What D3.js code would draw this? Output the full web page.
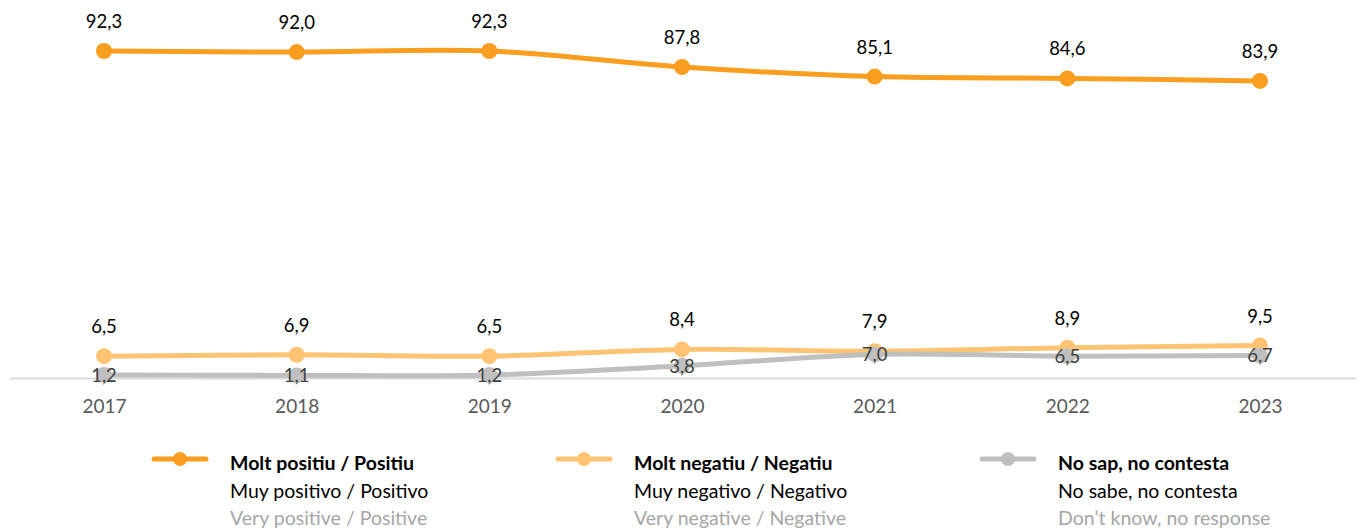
<!DOCTYPE html>
<html>
<head>
<meta charset="utf-8">
<script src="https://cdn.jsdelivr.net/npm/d3@7"></script>
<style>
  body { margin: 0; background: #fff; }
  svg { font-family: Lato, "Open Sans", sans-serif; }
</style>
</head>
<body>
<div id="chart"></div>
<script>
const years = ["2017", "2018", "2019", "2020", "2021", "2022", "2023"];
const positiu = [92.3, 92.0, 92.3, 87.8, 85.1, 84.6, 83.9];
const negatiu = [6.5, 6.9, 6.5, 8.4, 7.9, 8.9, 9.5];
const nsnc = [1.2, 1.1, 1.2, 3.8, 7.0, 6.5, 6.7];

const seriesNames = [
    ["Molt positiu / Positiu", "Muy positivo / Positivo", "Very positive / Positive"],
    ["Molt negatiu / Negatiu", "Muy negativo / Negativo", "Very negative / Negative"],
    ["No sap, no contesta", "No sabe, no contesta", "Don’t know, no response"]
];
const colors = ["#FA9E1F", "#FFC473", "#BFBFBF"];

const width = 1360;
const height = 529;

const svg = d3.select("#chart")
    .append("svg")
    .attr("width", width)
    .attr("height", height);

const x = d3.scalePoint()
    .domain(years)
    .range([104, 1260]);

const y = d3.scaleLinear()
    .domain([0, 92.3])
    .range([379.3, 51]);

// axis line + year labels
svg.append("line")
    .attr("x1", 10).attr("x2", 1356)
    .attr("y1", 378.5).attr("y2", 378.5)
    .attr("stroke", "#D9D9D9")
    .attr("stroke-width", 2);
const xAxis = svg.append("g")
    .attr("transform", "translate(0,378.5)")
    .call(d3.axisBottom(x).tickSize(0).tickPadding(21));
xAxis.select(".domain").remove();
xAxis.selectAll("text")
    .attr("font-size", 19)
    .attr("font-family", "Lato, 'Open Sans', sans-serif")
    .attr("fill", "#595959");

const line = d3.line()
    .x((d, i) => x(years[i]))
    .y(d => y(d))
    .curve(d3.curveCatmullRom.alpha(0.5));

const allSeries = [positiu, negatiu, nsnc];

allSeries.forEach((values, s) => {
    svg.append("path")
        .attr("d", line(values))
        .attr("fill", "none")
        .attr("stroke", colors[s])
        .attr("stroke-width", 5)
        .attr("stroke-linecap", "round");
    svg.append("g").selectAll("circle")
        .data(values)
        .enter().append("circle")
        .attr("cx", (d, i) => x(years[i]))
        .attr("cy", d => y(d))
        .attr("r", 8)
        .attr("fill", colors[s]);
});

const fmt = v => d3.format(".1f")(v).replace(".", ",");

// labels above points for the two orange series
[positiu, negatiu].forEach(values => {
    svg.append("g").selectAll("text")
        .data(values)
        .enter().append("text")
        .attr("x", (d, i) => x(years[i]))
        .attr("y", d => y(d) - 23)
        .attr("text-anchor", "middle")
        .attr("font-size", 18.5)
        .attr("fill", "#000")
        .text(fmt);
});

// labels centred on the grey points
svg.append("g").selectAll("text")
    .data(nsnc)
    .enter().append("text")
    .attr("x", (d, i) => x(years[i]))
    .attr("y", d => y(d) + 7)
    .attr("text-anchor", "middle")
    .attr("font-size", 18.5)
    .attr("fill", "#404040")
    .text(fmt);

// legend
const legendX = [152, 556, 980];
const textColors = ["#000", "#000", "#A6A6A6"];
seriesNames.forEach((names, s) => {
    const g = svg.append("g").attr("transform", `translate(${legendX[s]},0)`);
    g.append("line")
        .attr("x1", 2).attr("x2", 54)
        .attr("y1", 459).attr("y2", 459)
        .attr("stroke", colors[s])
        .attr("stroke-width", 5)
        .attr("stroke-linecap", "round");
    g.append("circle")
        .attr("cx", 28).attr("cy", 459)
        .attr("r", 7)
        .attr("fill", colors[s]);
    names.forEach((t, k) => {
        g.append("text")
            .attr("x", 78)
            .attr("y", 470 + k * 27.5)
            .attr("font-size", 19.5)
            .attr("font-weight", k === 0 ? "bold" : "normal")
            .attr("fill", textColors[k])
            .text(t);
    });
});
</script>
</body>
</html>
